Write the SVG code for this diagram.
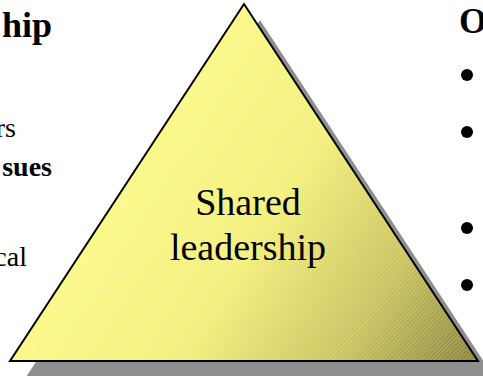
<svg xmlns="http://www.w3.org/2000/svg" width="483" height="376" viewBox="0 0 483 376">
  <style>
    .t { font-family: "Liberation Serif", "Times New Roman", serif; fill: #000; }
    .b { font-weight: bold; }
    .body { font-size: 28px; }
    .head { font-size: 36px; }
    .label { font-size: 38px; }
  </style>
  <defs>
    <linearGradient id="fillGrad" gradientUnits="userSpaceOnUse" x1="150" y1="150" x2="478" y2="361">
      <stop offset="0" stop-color="#fbf884"/>
      <stop offset="0.35" stop-color="#f3ef78"/>
      <stop offset="0.7" stop-color="#c9c25c"/>
      <stop offset="1" stop-color="#888338"/>
    </linearGradient>
    <pattern id="hatch" patternUnits="userSpaceOnUse" width="3" height="3" patternTransform="rotate(-45)">
      <rect x="0" y="0" width="3" height="1" fill="#ffffff" fill-opacity="0.22"/>
    </pattern>
  </defs>

  <g id="left-text">
    <text class="t b head" x="52" y="37" text-anchor="end">hip</text>
    <text class="t body" x="16" y="137" text-anchor="end">rs</text>
    <text class="t b body" x="52" y="176" text-anchor="end">sues</text>
    <text class="t body" x="27" y="266" text-anchor="end">cal</text>
  </g>

  <g id="triangle">
    <polygon points="260,20 494,377 26,377" fill="#8f8f8f"/>
    <polygon points="244,4 478,361 10,361" fill="url(#fillGrad)"/>
    <polygon points="244,4 478,361 10,361" fill="url(#hatch)"/>
    <polygon points="244,4 478,361 10,361" fill="none" stroke="#000" stroke-width="2" stroke-linejoin="miter"/>
    <text class="t label" x="248" y="215" text-anchor="middle">Shared</text>
    <text class="t label" x="248" y="260" text-anchor="middle">leadership</text>
  </g>

  <g id="right-text">
    <text class="t b head" x="459" y="33">O</text>
    <circle cx="467" cy="75" r="6"/>
    <circle cx="467" cy="132" r="6"/>
    <circle cx="467" cy="228" r="6"/>
    <circle cx="467" cy="285" r="6"/>
  </g>
</svg>
